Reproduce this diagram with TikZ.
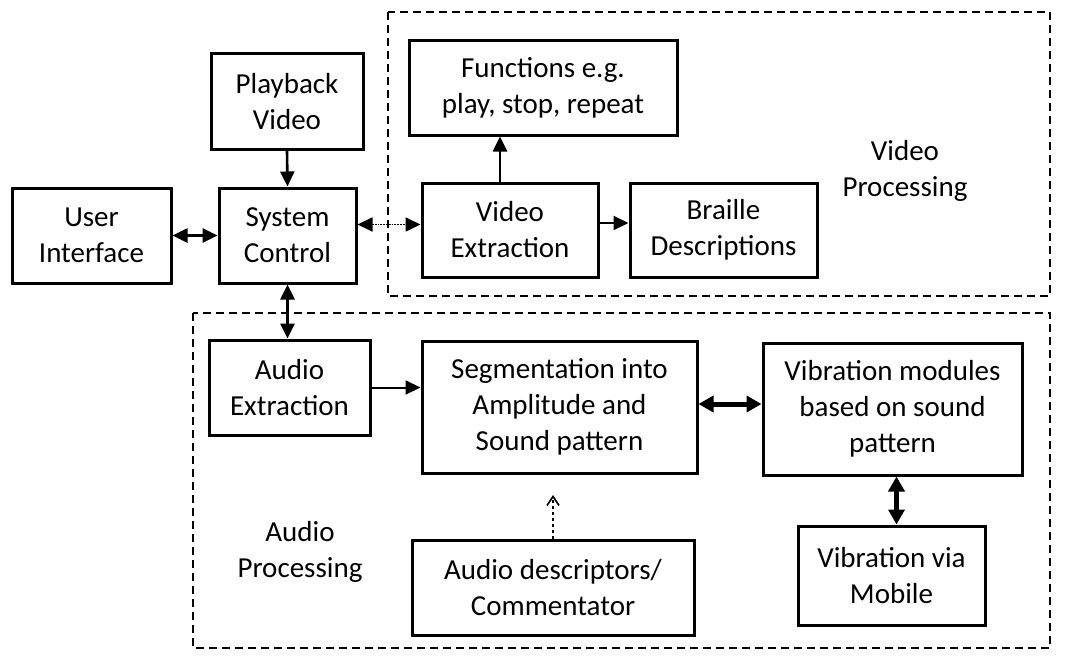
\documentclass[tikz,border=0pt]{standalone}
\usepackage{fontspec}
\setmainfont{Carlito}
\usetikzlibrary{arrows.meta}
\begin{document}
\begin{tikzpicture}[x=1pt,y=-1pt,
  blk/.style={draw,line width=3pt,align=center,inner sep=0pt,font=\fontsize{29}{36}\selectfont},
  grp/.style={draw,line width=2pt,dash pattern=on 8pt off 5pt},
  lbl/.style={align=center,font=\fontsize{29}{36}\selectfont},
  arr/.style={line width=2.6pt,-{Triangle[length=15pt,width=14pt]}},
  darr/.style={line width=2.6pt,{Triangle[length=15pt,width=14pt]}-{Triangle[length=15pt,width=14pt]}},
  tarr/.style={line width=5pt,{Triangle[length=15pt,width=16pt]}-{Triangle[length=15pt,width=16pt]}}]
\useasboundingbox (0,0) rectangle (1075,658);
\fill[white] (0,0) rectangle (1075,658);
% groups
\draw[grp] (388,12) rectangle (1050,296);
\draw[grp] (193,313) rectangle (1050,648);
% blocks
\node[blk,minimum width=152pt,minimum height=95pt] (PB) at (287,101.5) {Playback\\Video};
\node[blk,minimum width=159pt,minimum height=95pt] (UI) at (91.5,235.5) {User\\Interface};
\node[blk,minimum width=137pt,minimum height=95pt] (SC) at (287.5,235.5) {System\\Control};
\node[blk,minimum width=268pt,minimum height=94pt] (FN) at (543,88) {Functions e.g.\\play, stop, repeat};
\node[blk,minimum width=176pt,minimum height=94pt] (VE) at (510,230) {Video\\Extraction};
\node[blk,minimum width=187pt,minimum height=94pt] (BR) at (723.5,230) {Braille\\Descriptions};
\node[blk,minimum width=161pt,minimum height=95pt] (AE) at (289.5,387.5) {Audio\\Extraction};
\node[blk,minimum width=275pt,minimum height=132pt] (SEG) at (559.5,407) {Segmentation into\\Amplitude and\\Sound pattern};
\node[blk,minimum width=259pt,minimum height=132pt] (VM) at (892.5,409) {Vibration modules\\based on sound\\pattern};
\node[blk,minimum width=187pt,minimum height=99pt] (MOB) at (891.5,575.5) {Vibration via\\Mobile};
\node[blk,minimum width=282pt,minimum height=95pt] (AD) at (553,587.5) {Audio descriptors/\\Commentator};
% labels
\node[lbl] (VPL) at (905,171) {Video\\Processing};
\node[lbl] (APL) at (300,552) {Audio\\Processing};
% connectors
\draw[arr] (PB.south) -- (SC.north);
\draw[darr] (UI.east) -- (SC.west);
\draw[darr,line width=1.8pt,densely dotted] ([yshift=11pt]SC.east) -- ([yshift=11pt]SC.east -| VE.west);
\draw[arr] ([xshift=-10pt]VE.north) -- ([xshift=-10pt]VE.north |- FN.south);
\draw[arr,line width=2pt] ([yshift=7pt]VE.east) -- ([yshift=7pt]VE.east -| BR.west);
\draw[darr] (SC.south) -- (SC.south |- AE.north);
\draw[arr,line width=2pt] (AE.east) -- (AE.east -| SEG.west);
\draw[tarr] ([yshift=3pt]SEG.east) -- ([yshift=3pt]SEG.east -| VM.west);
\draw[tarr] ([xshift=4pt]VM.south) -- ([xshift=4pt]VM.south |- MOB.north);
\coordinate (ADT) at (553,495);
\draw[line width=1.6pt,dashed,-{Straight Barb[length=9pt,width=12pt]}] (AD.north) -- (ADT);
\end{tikzpicture}
\end{document}
